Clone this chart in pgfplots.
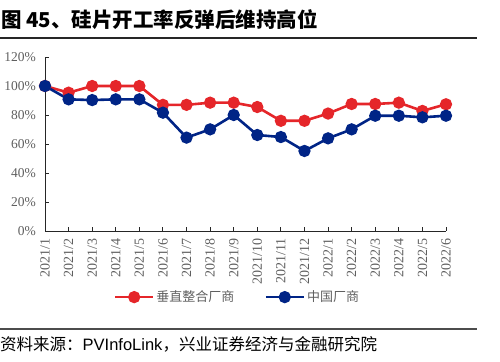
\documentclass[border=0pt]{standalone}
\usepackage{fontspec}
\usepackage{pgfplots}
\pgfplotsset{compat=1.18}
\setmainfont{Liberation Serif}
\newfontfamily\cjk{Noto Sans CJK SC}
\newfontfamily\arial{Liberation Sans}
\definecolor{cred}{RGB}{229,38,42}
\definecolor{cblue}{RGB}{0,36,134}
\definecolor{tgray}{RGB}{95,95,95}
\begin{document}
\begin{tikzpicture}
\path[use as bounding box] (0,0) rectangle (500bp,362bp);
% title
\node[anchor=west,inner sep=0pt] at (1bp,342bp) {\cjk\fontsize{20.5bp}{22bp}\selectfont\bfseries 图 45、硅片开工率反弹后维持高位};
\draw[line width=1.4bp,black!85] (0bp,324bp) -- (477bp,324bp);
% source
\draw[line width=1.2bp,black!70] (0bp,33bp) -- (477bp,33bp);
\node[anchor=west,inner sep=0pt] at (0bp,18bp) {\cjk\fontsize{16.5bp}{18bp}\selectfont 资料来源：{\arial PVInfoLink}，兴业证券经济与金融研究院};
\begin{axis}[
  at={(45bp,131bp)}, anchor=south west,
  scale only axis, width=401bp, height=174bp,
  xmin=0, xmax=17, ymin=0, ymax=120,
  axis lines*=left,
  axis line style={black!85, line width=0.9bp},
  xtick={0,...,17},
  xticklabels={2021/1,2021/2,2021/3,2021/4,2021/5,2021/6,2021/7,2021/8,2021/9,2021/10,2021/11,2021/12,2022/1,2022/2,2022/3,2022/4,2022/5,2022/6},
  xticklabel style={rotate=90, anchor=east, font=\rmfamily\fontsize{14bp}{15bp}\selectfont, text=tgray, inner sep=0pt},
  xticklabel shift=7bp,
  ytick={0,20,...,120},
  yticklabels={0\%,20\%,40\%,60\%,80\%,100\%,120\%},
  yticklabel style={font=\rmfamily\fontsize{13.5bp}{14bp}\selectfont, text=tgray, inner sep=0pt},
  yticklabel shift=9bp,
  tick align=inside,
  major tick length=4bp,
  tick style={black!85, line width=0.9bp},
  clip=false,
  legend columns=2,
  legend style={at={(0.48,-0.38)}, anchor=center, draw=none, fill=none,
    font=\cjk\fontsize{13bp}{14bp}\selectfont, text=tgray,
    /tikz/column 2/.style={column sep=28bp}},
  legend image code/.code={\draw[mark repeat=2,mark phase=2,#1] plot coordinates {(0bp,0bp) (19bp,0bp) (38bp,0bp)};},
]
\addplot[cred, line width=2.6bp, mark=*, mark size=4.8bp, mark options={solid}] coordinates {
(0,100) (1,95.4) (2,100) (3,100) (4,100) (5,87) (6,87) (7,88.5) (8,88.5) (9,85.5) (10,76) (11,76) (12,81) (13,87.6) (14,87.6) (15,88.5) (16,82.8) (17,87.4)};
\addlegendentry{垂直整合厂商}
\addplot[cblue, line width=2.6bp, mark=*, mark size=4.8bp, mark options={solid}] coordinates {
(0,100) (1,90.8) (2,90.3) (3,90.8) (4,90.8) (5,81.6) (6,64.4) (7,70.1) (8,80) (9,66.2) (10,64.8) (11,55.2) (12,63.9) (13,70.1) (14,79.5) (15,79.5) (16,78.4) (17,79.5)};
\addlegendentry{中国厂商}
\end{axis}
\end{tikzpicture}
\end{document}
